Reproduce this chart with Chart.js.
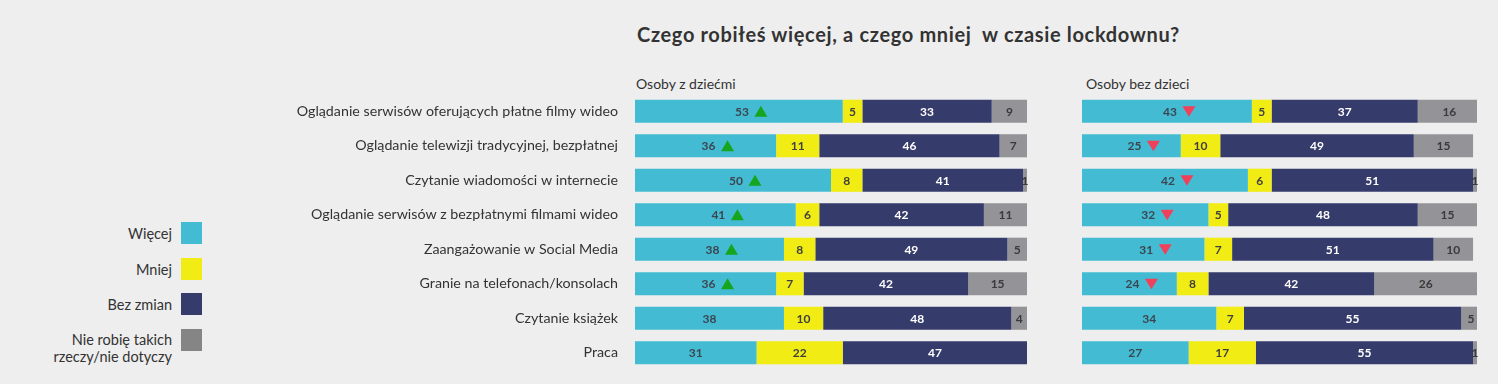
<!DOCTYPE html>
<html lang="pl">
<head>
<meta charset="utf-8">
<title>Czego robiłeś więcej, a czego mniej w czasie lockdownu?</title>
<script src="https://cdn.jsdelivr.net/npm/chart.js@4/dist/chart.umd.min.js"></script>
<style>
    html, body {
        margin: 0;
        padding: 0;
        background: #eeeeee;
        font-family: Lato, 'Noto Sans', sans-serif;
        color: #333333;
    }
    .page {
        position: relative;
        width: 1498px;
        height: 384px;
        overflow: hidden;
    }
    .title {
        position: absolute;
        left: 637px;
        top: 22px;
        font-size: 20px;
        font-weight: bold;
        letter-spacing: 0.65px;
        white-space: pre;
        color: #333333;
    }
    .panel-title {
        position: absolute;
        top: 75px;
        font-size: 14px;
        color: #333333;
    }
    .legend-text {
        position: absolute;
        right: 1326px;
        text-align: right;
        font-size: 14.5px;
        line-height: 17px;
        white-space: pre;
    }
    .legend-box {
        position: absolute;
        left: 181px;
        width: 21px;
        height: 22px;
    }
    .chart-box {
        position: absolute;
        top: 94px;
        height: 276px;
    }
</style>
</head>
<body>
<div class="page">
    <div class="title">Czego robiłeś więcej, a czego mniej  w czasie lockdownu?</div>
    <div class="panel-title" style="left: 636px;">Osoby z dziećmi</div>
    <div class="panel-title" style="left: 1086px;">Osoby bez dzieci</div>
    <div id="legend"></div>
    <div class="chart-box" style="left: 260px; width: 780px;"><canvas id="kidsChart"></canvas></div>
    <div class="chart-box" style="left: 1070px; width: 428px;"><canvas id="noKidsChart"></canvas></div>
</div>

<script>
// Data
const categories = [
    'Oglądanie serwisów oferujących płatne filmy wideo',
    'Oglądanie telewizji tradycyjnej, bezpłatnej',
    'Czytanie wiadomości w internecie',
    'Oglądanie serwisów z bezpłatnymi filmami wideo',
    'Zaangażowanie w Social Media',
    'Granie na telefonach/konsolach',
    'Czytanie książek',
    'Praca'
];

const seriesNames = ['Więcej', 'Mniej', 'Bez zmian', 'Nie robię takich\nrzeczy/nie dotyczy'];

const kidsMore = [53, 36, 50, 41, 38, 36, 38, 31];
const kidsLess = [5, 11, 8, 6, 8, 7, 10, 22];
const kidsSame = [33, 46, 41, 42, 49, 42, 48, 47];
const kidsNone = [9, 7, 1, 11, 5, 15, 4, 0];

const noKidsMore = [43, 25, 42, 32, 31, 24, 34, 27];
const noKidsLess = [5, 10, 6, 5, 7, 8, 7, 17];
const noKidsSame = [37, 49, 51, 48, 51, 42, 55, 55];
const noKidsNone = [16, 15, 1, 15, 10, 26, 5, 1];

// arrows next to "Więcej" (up = more than the other group, down = less)
const kidsMarks = ['up', 'up', 'up', 'up', 'up', 'up', null, null];
const noKidsMarks = ['down', 'down', 'down', 'down', 'down', 'down', null, null];

const colors = ['#43bcd3', '#f1ec13', '#353b6b', '#949498'];
const legendColors = ['#43bcd3', '#f1ec13', '#353b6b', '#858585'];
const labelColors = ['#3c4650', '#404040', '#ffffff', '#3a3a3a'];

Chart.defaults.font.family = 'Lato, "Noto Sans", sans-serif';
Chart.defaults.color = '#333333';

function drawTriangle(ctx, x, y, dir) {
    ctx.beginPath();
    if (dir === 'up') {
        ctx.fillStyle = '#16a51e';
        ctx.moveTo(x - 6.5, y + 5.5);
        ctx.lineTo(x + 6.5, y + 5.5);
        ctx.lineTo(x, y - 5.5);
    } else {
        ctx.fillStyle = '#f0405a';
        ctx.moveTo(x - 6.5, y - 5);
        ctx.lineTo(x + 6.5, y - 5);
        ctx.lineTo(x, y + 5.5);
    }
    ctx.closePath();
    ctx.fill();
}

const segmentLabels = {
    id: 'segmentLabels',
    afterDatasetsDraw(chart, args, opts) {
        const ctx = chart.ctx;
        ctx.save();
        ctx.font = 'bold 12px Lato, "Noto Sans", sans-serif';
        ctx.textAlign = 'center';
        ctx.textBaseline = 'middle';
        chart.data.datasets.forEach((ds, di) => {
            const meta = chart.getDatasetMeta(di);
            meta.data.forEach((bar, i) => {
                const value = ds.data[i];
                if (!value) return;
                const cx = (bar.base + bar.x) / 2;
                const mark = di === 0 && opts.marks ? opts.marks[i] : null;
                ctx.fillStyle = labelColors[di];
                ctx.fillText(String(value), mark ? cx + 3 : cx, bar.y + 0.5);
                if (mark) drawTriangle(ctx, cx + 22, bar.y, mark);
            });
        });
        ctx.restore();
    }
};

function buildDatasets(values) {
    return values.map((data, i) => ({
        label: seriesNames[i],
        data: data,
        backgroundColor: colors[i],
        borderWidth: 0,
        barPercentage: 1,
        categoryPercentage: 0.67
    }));
}

function createChart(canvasId, values, marks, labelWidth, padding) {
    const showLabels = labelWidth > 0;
    return new Chart(document.getElementById(canvasId), {
        type: 'bar',
        data: {
            labels: categories,
            datasets: buildDatasets(values)
        },
        options: {
            indexAxis: 'y',
            responsive: true,
            maintainAspectRatio: false,
            animation: false,
            layout: { padding: padding },
            scales: {
                x: {
                    stacked: true,
                    min: 0,
                    max: 100,
                    display: false
                },
                y: {
                    stacked: true,
                    display: showLabels,
                    grid: { display: false, drawTicks: false },
                    border: { display: false },
                    ticks: {
                        padding: 17,
                        color: '#333333',
                        font: { size: 14.25 }
                    },
                    afterFit: (scale) => {
                        if (!showLabels) return;
                        scale.width = labelWidth;
                        // tick padding would otherwise shrink the plot vertically
                        scale.paddingTop = 0;
                        scale.paddingBottom = 0;
                    }
                }
            },
            plugins: {
                legend: { display: false },
                tooltip: { enabled: false },
                segmentLabels: { marks: marks }
            }
        },
        plugins: [segmentLabels]
    });
}

function buildLegend() {
    const legend = document.getElementById('legend');
    const boxTops = [222, 258, 293, 329];
    seriesNames.forEach((name, i) => {
        const lines = name.split('\n').length;
        const text = document.createElement('div');
        text.className = 'legend-text';
        text.textContent = name;
        text.style.top = (boxTops[i] + 11 - 8.5 * lines + (lines > 1 ? 8 : 0)) + 'px';
        const box = document.createElement('div');
        box.className = 'legend-box';
        box.style.top = boxTops[i] + 'px';
        box.style.background = legendColors[i];
        legend.appendChild(text);
        legend.appendChild(box);
    });
}

document.addEventListener('DOMContentLoaded', () => {
    buildLegend();
    // canvas starts at x=260, so a 375px axis puts the bars at x=635
    createChart('kidsChart', [kidsMore, kidsLess, kidsSame, kidsNone], kidsMarks, 375,
        { left: 0, right: 13, top: 0, bottom: 0 });
    createChart('noKidsChart', [noKidsMore, noKidsLess, noKidsSame, noKidsNone], noKidsMarks, 0,
        { left: 12, right: 21, top: 0, bottom: 0 });
});
</script>
</body>
</html>
